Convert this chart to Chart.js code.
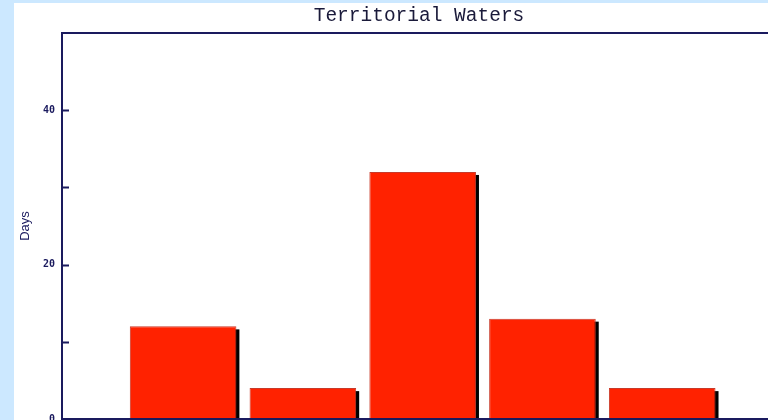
<!DOCTYPE html>
<html>
<head>
<meta charset="utf-8">
<title>Territorial Waters</title>
<script src="https://cdn.jsdelivr.net/npm/chart.js@4.4.1/dist/chart.umd.min.js"></script>
<style>
    html, body {
        margin: 0;
        padding: 0;
        width: 768px;
        height: 420px;
        overflow: hidden;
        background: #cce8ff;
    }
    #panel {
        position: absolute;
        left: 14px;
        top: 3px;
        width: 808px;
        height: 440px;
        background: #ffffff;
    }
</style>
</head>
<body>
<div id="panel">
    <canvas id="watersChart" width="808" height="440"></canvas>
</div>
<script>
// Bars sit on whole-number slots of a 0..6 axis
const barSlots = [1, 2, 3, 4, 5];
const barValues = [12, 4, 32, 13, 4];

// Y axis: labelled ticks every 20, small marks every 10
const yLabelTicks = [0, 20, 40];
const yMarkTicks = [10, 20, 30, 40];

const chartTitle = 'Territorial Waters';
const navy = '#1a1a5e';
const barRed = '#ff2200';

// Title centred over the whole panel (the built-in one centres inside the layout padding)
const panelTitlePlugin = {
    id: 'panelTitle',
    afterDraw(chart) {
        const { ctx } = chart;
        ctx.save();
        ctx.fillStyle = '#1a1a3a';
        ctx.font = '19.5px "Liberation Mono"';
        ctx.textAlign = 'center';
        ctx.textBaseline = 'alphabetic';
        ctx.fillText(chartTitle, chart.width / 2 + 1, 18);
        ctx.restore();
    }
};

// Frame round the plot area plus short tick marks on the inside of the y axis
const framePlugin = {
    id: 'frame',
    afterDraw(chart) {
        const { ctx, chartArea, scales } = chart;
        ctx.save();
        ctx.strokeStyle = navy;
        ctx.lineWidth = 2;
        ctx.strokeRect(chartArea.left, chartArea.top,
            chartArea.right - chartArea.left, chartArea.bottom - chartArea.top);
        ctx.beginPath();
        yMarkTicks.forEach(v => {
            const y = Math.round(scales.y.getPixelForValue(v)) + 0.5;
            ctx.moveTo(chartArea.left, y);
            ctx.lineTo(chartArea.left + 7, y);
        });
        ctx.stroke();
        ctx.restore();
    }
};

// Hard black drop shadow behind each bar
const barShadowPlugin = {
    id: 'barShadow',
    beforeDatasetsDraw(chart) {
        const { ctx, chartArea } = chart;
        const meta = chart.getDatasetMeta(0);
        ctx.save();
        ctx.beginPath();
        ctx.rect(chartArea.left, chartArea.top,
            chartArea.right - chartArea.left, chartArea.bottom - chartArea.top);
        ctx.clip();
        ctx.fillStyle = '#000000';
        meta.data.forEach(bar => {
            const p = bar.getProps(['x', 'y', 'base', 'width'], true);
            ctx.fillRect(p.x - p.width / 2 + 3, p.y + 3, p.width, p.base - p.y);
        });
        ctx.restore();
    }
};

const ctx = document.getElementById('watersChart').getContext('2d');
new Chart(ctx, {
    type: 'bar',
    data: {
        datasets: [{
            label: 'Days',
            data: barSlots.map((x, i) => ({ x: x, y: barValues[i] })),
            backgroundColor: barRed,
            borderColor: '#c83a2a',
            borderWidth: 1,
            borderSkipped: false,
            barPercentage: 0.89,
            categoryPercentage: 1
        }]
    },
    options: {
        responsive: false,
        animation: false,
        layout: {
            padding: { left: 0, right: 40, top: 30, bottom: 24 }
        },
        scales: {
            x: {
                type: 'linear',
                display: false,
                offset: false,
                min: -0.011,
                max: 6
            },
            y: {
                min: 0,
                max: 50,
                afterFit(scale) {
                    scale.width = 48;
                },
                ticks: {
                    stepSize: 10,
                    padding: 7,
                    color: navy,
                    font: { family: 'DejaVu Sans Mono', size: 10, weight: 'bold' },
                    callback: v => (yLabelTicks.includes(v) ? v : '')
                },
                grid: { display: false, drawTicks: false },
                border: { display: false },
                title: {
                    display: true,
                    text: 'Days',
                    color: navy,
                    font: { family: 'Liberation Sans', size: 13 },
                    padding: { top: 4, bottom: 0 }
                }
            }
        },
        plugins: {
            legend: { display: false },
            tooltip: { enabled: false },
            title: { display: false }
        }
    },
    plugins: [barShadowPlugin, framePlugin, panelTitlePlugin]
});
</script>
</body>
</html>
